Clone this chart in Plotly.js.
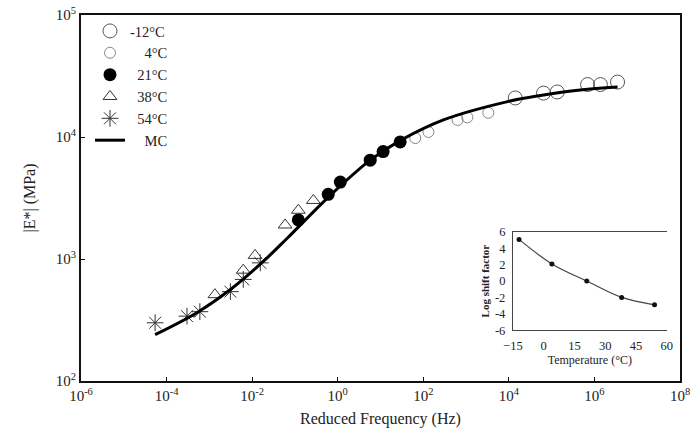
<!DOCTYPE html>
<html>
<head>
<meta charset="utf-8">
<script src="https://cdn.plot.ly/plotly-3.0.1.min.js"></script>
<style>html,body{margin:0;padding:0;background:#fff;}#chart{width:692px;height:437px;}</style>
</head>
<body>
<div id="chart"></div>
<script>
// Reduced frequency (Hz) and |E*| (MPa)
const freqM12 = [1.41e4, 6.46e4, 1.35e5, 6.92e5, 1.38e6, 3.47e6];
const modM12  = [20900, 22900, 23400, 26900, 26900, 28200];
const freq4   = [65, 132, 631, 1070, 3310];
const mod4    = [9800, 11000, 13800, 14500, 15800];
const freq21  = [0.12, 0.60, 1.15, 5.75, 11.5, 28.8];
const mod21   = [2090, 3390, 4270, 6460, 7590, 9120];
const freq38  = [0.00135, 0.0062, 0.0117, 0.059, 0.12, 0.27];
const mod38   = [510, 810, 1070, 1900, 2510, 3020];
const freq54  = [5.4e-5, 3.0e-4, 6.0e-4, 0.0031, 0.0062, 0.0155];
const mod54   = [300, 340, 370, 540, 680, 930];
const freqMC  = [5.4e-5, 5.1e-4, 3.1e-3, 0.0182, 0.066, 0.66, 5.75, 28.8, 295, 9330, 5.5e4, 4.68e5, 3.47e6];
const modMC   = [240, 363, 562, 955, 1480, 3310, 6460, 9330, 13800, 19500, 21900, 24300, 25700];
// Tick labels
const xTickVals = [1e-6, 1e-4, 1e-2, 1, 1e2, 1e4, 1e6, 1e8];
const xTickText = ['10<sup>-6</sup>', '10<sup>-4</sup>', '10<sup>-2</sup>', '10<sup>0</sup>', '10<sup>2</sup>', '10<sup>4</sup>', '10<sup>6</sup>', '10<sup>8</sup>'];
const yTickVals = [1e2, 1e3, 1e4, 1e5];
const yTickText = ['10<sup>2</sup>', '10<sup>3</sup>', '10<sup>4</sup>', '10<sup>5</sup>'];
// Inset: shift factors
const tempC      = [-12, 4, 21, 38, 54];
const logShift   = [5.1, 2.1, 0, -2, -2.9];
const insetXTicks = [-15, 0, 15, 30, 45, 60];
const insetYTicks = [6, 4, 2, 0, -2, -4, -6];

const serif = 'Liberation Serif, Times New Roman, serif';

const traces = [
  {x: freqM12, y: modM12, mode: 'markers', type: 'scatter', name: '-12°C',
   marker: {symbol: 'circle-open', size: 14, color: '#555', line: {width: 1, color: '#555'}}},
  {x: freq4, y: mod4, mode: 'markers', type: 'scatter', name: '\u00A0\u00A0\u00A0\u00A04°C',
   marker: {symbol: 'circle-open', size: 11, color: '#888', line: {width: 1, color: '#888'}}},
  {x: freq21, y: mod21, mode: 'markers', type: 'scatter', name: '\u00A0\u00A021°C',
   marker: {symbol: 'circle', size: 13, color: '#000'}},
  {x: freq38, y: mod38, mode: 'markers', type: 'scatter', name: '\u00A0\u00A038°C',
   marker: {symbol: 'triangle-up-open', size: 12, color: '#333', line: {width: 1, color: '#333'}}},
  {x: freq54, y: mod54, mode: 'markers', type: 'scatter', name: '\u00A0\u00A054°C',
   marker: {symbol: 'asterisk-open', size: 14, color: '#333', line: {width: 1, color: '#333'}}},
  {x: freqMC, y: modMC, mode: 'lines', type: 'scatter', name: '\u00A0\u00A0\u00A0\u00A0MC',
   line: {color: '#000', width: 3, shape: 'spline', smoothing: 1}},
  {x: tempC, y: logShift, mode: 'lines+markers', type: 'scatter', xaxis: 'x2', yaxis: 'y2', showlegend: false,
   line: {color: '#444', width: 1.2, shape: 'spline', smoothing: 1},
   marker: {symbol: 'circle', size: 5, color: '#111'}}
];

const layout = {
  width: 692, height: 437,
  margin: {l: 81, r: 12, t: 15, b: 56},
  paper_bgcolor: '#fff', plot_bgcolor: '#fff',
  font: {family: serif, color: '#222', size: 15},
  showlegend: true,
  legend: {x: 0.015, y: 1.0, xanchor: 'left', yanchor: 'top', bgcolor: 'rgba(0,0,0,0)',
           font: {family: serif, size: 14.5, color: '#222'}, tracegroupgap: 0, itemwidth: 30},
  xaxis: {type: 'log', range: [-6, 8], tickmode: 'array', tickvals: xTickVals, ticktext: xTickText,
          showline: true, linecolor: '#111', linewidth: 2, mirror: true,
          ticks: 'inside', ticklen: 4, tickcolor: '#111', showgrid: false, zeroline: false,
          tickfont: {family: serif, size: 15, color: '#222'},
          title: {text: 'Reduced Frequency (Hz)', font: {family: serif, size: 16, color: '#222'}, standoff: 10}},
  yaxis: {type: 'log', range: [2, 5], tickmode: 'array', tickvals: yTickVals, ticktext: yTickText,
          showline: true, linecolor: '#111', linewidth: 2, mirror: true,
          ticks: 'inside', ticklen: 4, tickcolor: '#111', showgrid: false, zeroline: false,
          tickfont: {family: serif, size: 15, color: '#222'},
          title: {text: '|E*| (MPa)', font: {family: serif, size: 16, color: '#222'}, standoff: 16}},
  xaxis2: {domain: [0.721, 0.978], anchor: 'y2', range: [-15, 60], tickmode: 'array', tickvals: insetXTicks,
           showline: true, linecolor: '#444', linewidth: 1, mirror: true, ticks: '',
           ticklabelstandoff: 4,
           showgrid: false, zeroline: false,
           tickfont: {family: serif, size: 12.5, color: '#222'},
           title: {text: 'Temperature (°C)', font: {family: serif, size: 12, color: '#222'}, standoff: 3}},
  yaxis2: {domain: [0.139, 0.407], anchor: 'x2', range: [-6, 6], tickmode: 'array', tickvals: insetYTicks,
           ticktext: insetYTicks.map(v => String(v)),
           showline: true, linecolor: '#444', linewidth: 1, mirror: false, ticks: '',
           ticklabelstandoff: 4,
           showgrid: false, zeroline: false,
           tickfont: {family: serif, size: 12.5, color: '#222'},
           title: {text: '<b>Log shift factor</b>', font: {family: serif, size: 11, color: '#222'}, standoff: 3}}
};

Plotly.newPlot('chart', traces, layout, {displayModeBar: false, staticPlot: true});
</script>
</body>
</html>
